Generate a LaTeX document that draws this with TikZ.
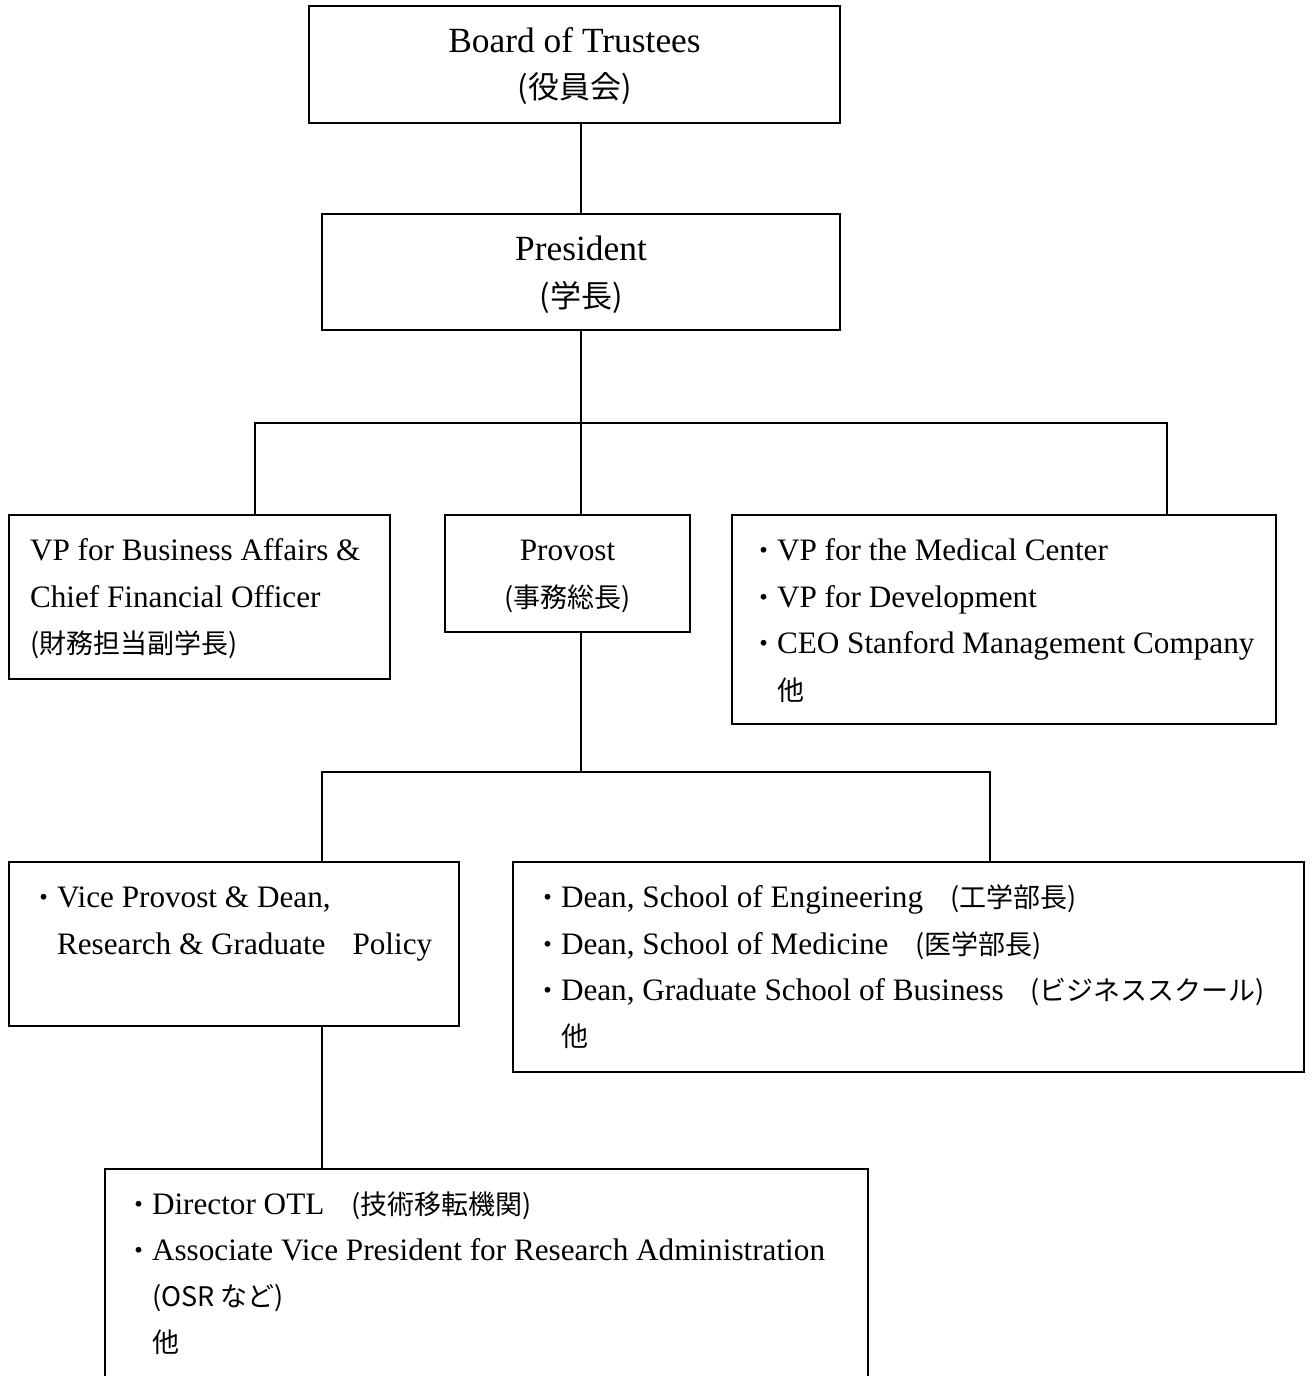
\documentclass[tikz,border=0pt]{standalone}
\usepackage{fontspec}
\setmainfont{Liberation Serif}
\newfontfamily\jpfont{Noto Sans CJK JP}
\usetikzlibrary{fit}
\newcommand\jtxt[1]{{\jpfont\fontsize{13.5pt}{16pt}\selectfont #1}}
\newcommand\jtitle[1]{{\jpfont\fontsize{15.5pt}{18pt}\selectfont #1}}
\begin{document}
\begin{tikzpicture}[x=0.5pt,y=-0.5pt,
  box/.style={draw=black,line width=1pt,inner sep=0pt,fill=none},
  conn/.style={draw=black,line width=1pt},
  txt/.style={inner sep=0pt,outer sep=0pt,font=\fontsize{15.6pt}{18pt}\selectfont},
  ttl/.style={inner sep=0pt,outer sep=0pt,font=\fontsize{17.7pt}{21pt}\selectfont}]
\clip (0,0) rectangle (1313,1376);
\fill[white] (0,0) rectangle (1313,1376);
% boxes
\node[box, fit={(309,6) (840,123)}] (board) {};
\node[box, fit={(322,214) (840,330)}] (president) {};
\node[box, fit={(9,515) (390,679)}] (vpb) {};
\node[box, fit={(445,515) (690,632)}] (provost) {};
\node[box, fit={(732,515) (1276,724)}] (others) {};
\node[box, fit={(9,862) (459,1026)}] (vice) {};
\node[box, fit={(513,862) (1304,1072)}] (deans) {};
\node[box, fit={(105,1169) (868,1420)}] (otl) {};
% texts
\node[ttl, anchor=base] (board1) at (574.5,53) {Board of Trustees};
\node[ttl, anchor=base] (board2) at (574.5,98) {\jtitle{(役員会)}};
\node[ttl, anchor=base] (pres1) at (581,260) {President};
\node[ttl, anchor=base] (pres2) at (581,307) {\jtitle{(学長)}};
\node[txt, anchor=base west] (vpb1) at (30,560) {VP for Business Affairs \&};
\node[txt, anchor=base west] (vpb2) at (30,607) {Chief Financial Officer};
\node[txt, anchor=base west] (vpb3) at (30,653) {\jtxt{(財務担当副学長)}};
\node[txt, anchor=base] (prov1) at (567.5,560) {Provost};
\node[txt, anchor=base] (prov2) at (567.5,607) {\jtxt{(事務総長)}};
\node[txt, anchor=base west] (oth1) at (750,560) {\jtxt{・}VP for the Medical Center};
\node[txt, anchor=base west] (oth2) at (750,607) {\jtxt{・}VP for Development};
\node[txt, anchor=base west] (oth3) at (750,653) {\jtxt{・}CEO Stanford Management Company};
\node[txt, anchor=base west] (oth4) at (750,700) {\jtxt{　他}};
\node[txt, anchor=base west] (vice1) at (30,907) {\jtxt{・}Vice Provost \& Dean,};
\node[txt, anchor=base west] (vice2) at (30,954) {\jtxt{　}Research \& Graduate\jtxt{　}Policy};
\node[txt, anchor=base west] (dean1) at (534,907) {\jtxt{・}Dean, School of Engineering\jtxt{　(工学部長)}};
\node[txt, anchor=base west] (dean2) at (534,954) {\jtxt{・}Dean, School of Medicine\jtxt{　(医学部長)}};
\node[txt, anchor=base west] (dean3) at (534,1000) {\jtxt{・}Dean, Graduate School of Business\jtxt{　(ビジネススクール)}};
\node[txt, anchor=base west] (dean4) at (534,1046) {\jtxt{　他}};
\node[txt, anchor=base west] (otl1) at (125,1214) {\jtxt{・}Director OTL\jtxt{　(技術移転機関)}};
\node[txt, anchor=base west] (otl2) at (125,1260) {\jtxt{・}Associate Vice President for Research Administration};
\node[txt, anchor=base west] (otl3) at (125,1306) {\jtxt{　(OSR など)}};
\node[txt, anchor=base west] (otl4) at (125,1352) {\jtxt{　他}};
% junctions
\coordinate (j1) at (581,423);
\coordinate (j1l) at (255,423);
\coordinate (j1r) at (1167,423);
\coordinate (j2) at (581,772);
\coordinate (j2l) at (322,772);
\coordinate (j2r) at (990,772);
% connectors
\draw[conn] (president.north |- board.south) -- (president.north);
\draw[conn] (president.south) -- (president.south |- provost.north);
\draw[conn] (j1l |- vpb.north) -- (j1l) -- (j1r) -- (j1r |- others.north);
\draw[conn] (j2 |- provost.south) -- (j2);
\draw[conn] (j2l |- vice.north) -- (j2l) -- (j2r) -- (j2r |- deans.north);
\draw[conn] (j2l |- vice.south) -- (j2l |- otl.north);
\end{tikzpicture}
\end{document}
